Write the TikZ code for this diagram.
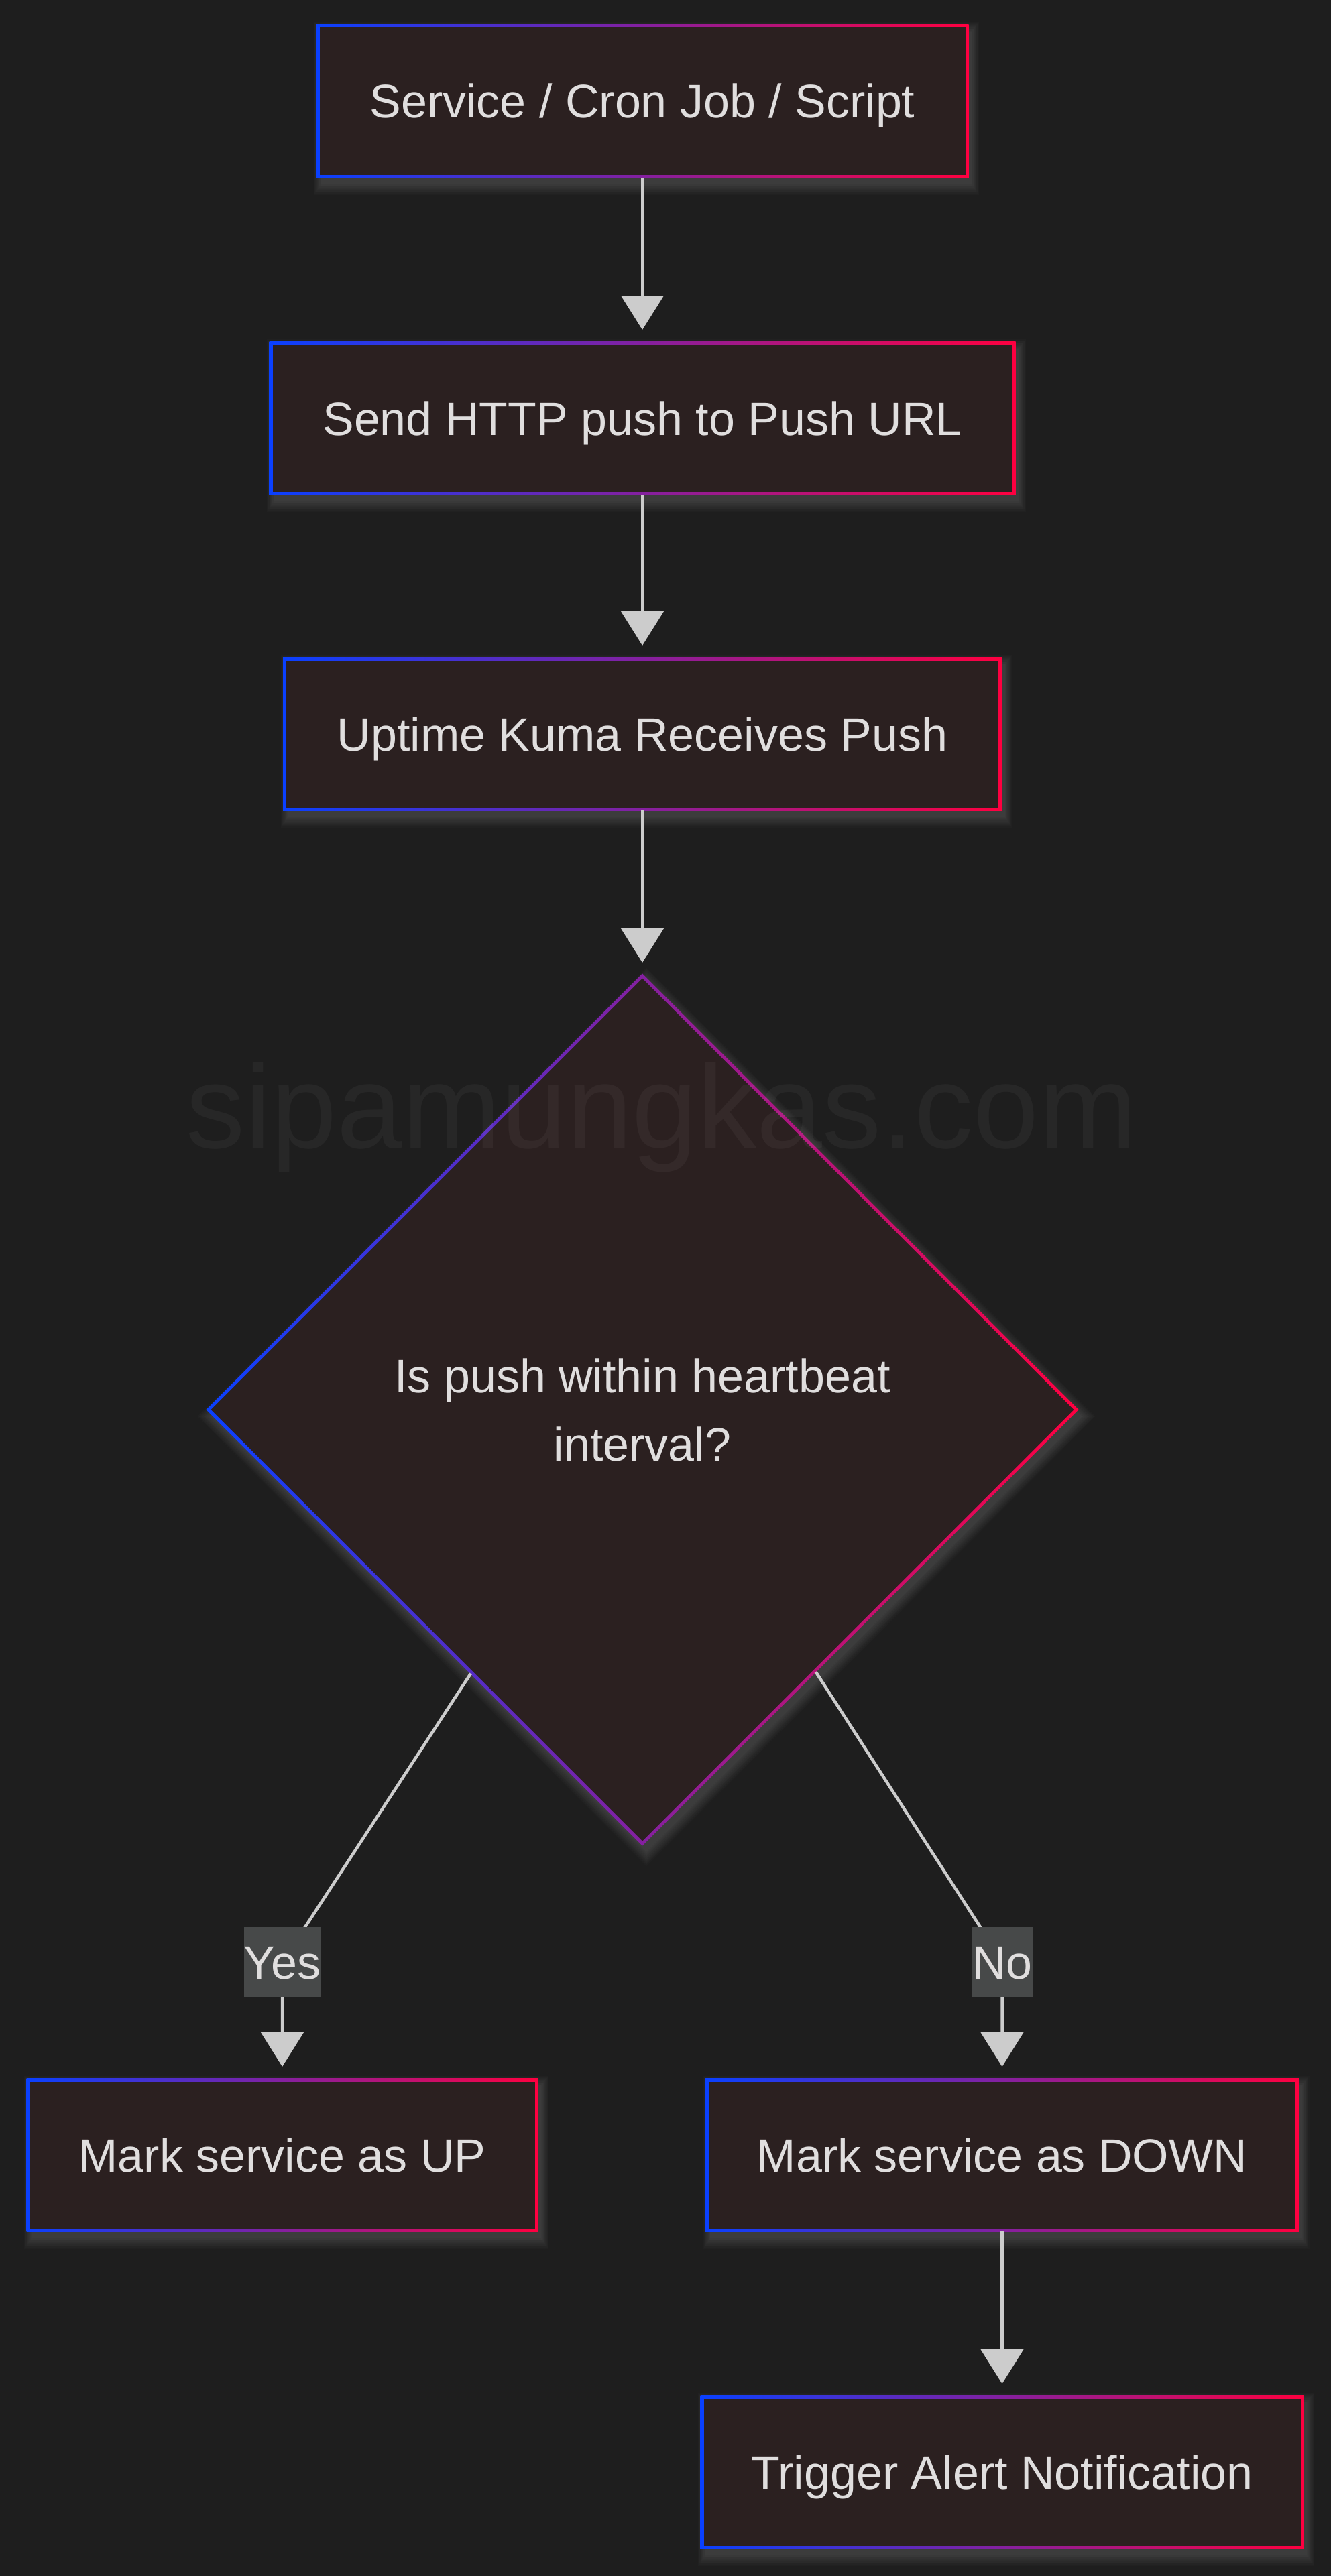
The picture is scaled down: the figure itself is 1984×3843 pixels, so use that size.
\documentclass[tikz,border=0pt]{standalone}
\usepackage{fontspec}
\setmainfont{Liberation Sans}
\usetikzlibrary{arrows.meta,shapes.geometric,calc}
\definecolor{bgc}{HTML}{1E1E1E}
\definecolor{nfill}{HTML}{2B2020}
\definecolor{kblue}{HTML}{0A40FF}
\definecolor{kred}{HTML}{FF0040}
\definecolor{txtc}{HTML}{E0DEDE}
\definecolor{edgec}{HTML}{CCCCCC}
\definecolor{lblc}{HTML}{474949}
\pgfdeclarelayer{bgzero}
\pgfdeclarelayer{bgone}
\pgfsetlayers{bgzero,bgone,main}
\tikzset{
  box/.style={rectangle, inner sep=0pt, outer sep=0pt, minimum height=224pt, text=txtc,
    font=\fontsize{70}{84}\selectfont, text height=50pt, text depth=0pt},
  dia/.style={diamond, aspect=1, inner sep=0pt, outer sep=0pt, minimum width=1294pt,
    minimum height=1294pt, text=txtc, font=\fontsize{70}{102}\selectfont, align=center},
  edge/.style={draw=edgec, line width=4.5pt, -{Triangle[width=63pt,length=51pt]},
    shorten >=20pt, shorten <=2pt},
  lbl/.style={fill=lblc, text=txtc, inner sep=0pt, minimum height=104pt,
    font=\fontsize{70}{84}\selectfont, text height=50pt, text depth=0pt},
  wm/.style={text=white, text opacity=0.045, font=\fontsize{176}{200}\selectfont, inner sep=0pt},
  glow/.style={fill=white, opacity=0.014}
}
\newcommand{\boxbg}[1]{%
  \foreach \k in {1,...,10}{%
    \fill[glow] ($(#1.north west)+(-\k*1.2+6,-\k*1.6+10)$) rectangle ($(#1.south east)+(\k*1.2+6,\k*1.8+10)$);}
  \shade[left color=kblue,right color=kred] ($(#1.north west)+(-2.5,-2.5)$) rectangle ($(#1.south east)+(2.5,2.5)$);
  \fill[nfill] ($(#1.north west)+(2.5,2.5)$) rectangle ($(#1.south east)+(-2.5,-2.5)$);
}
\begin{document}
\begin{tikzpicture}[x=1pt,y=-1pt]
\useasboundingbox (0,0) rectangle (1984,3843);
\begin{pgfonlayer}{bgzero}
  \fill[bgc] (-10,-10) rectangle (1994,3853);
\end{pgfonlayer}

\node[box, minimum width=968pt] (svc) at (958,151) {Service / Cron Job / Script};
\node[box, minimum width=1108pt] (push) at (958,624) {Send HTTP push to Push URL};
\node[box, minimum width=1067pt] (recv) at (958,1095) {Uptime Kuma Receives Push};
\node[dia] (q) at (958,2103) {Is push within heartbeat\\interval?};
\node[box, minimum width=758pt] (up) at (421,3215) {Mark service as UP};
\node[box, minimum width=880pt] (down) at (1494.5,3215) {Mark service as DOWN};
\node[box, minimum width=895pt] (alert) at (1494.5,3688) {Trigger Alert Notification};

\begin{pgfonlayer}{bgone}
  \boxbg{svc}
  \boxbg{push}
  \boxbg{recv}
  \boxbg{up}
  \boxbg{down}
  \boxbg{alert}
  \foreach \k in {1,...,10}{%
    \fill[glow] ($(q.north)+(6,10-\k*2.26)$) -- ($(q.east)+(6+\k*2.26,10)$) -- ($(q.south)+(6,10+\k*2.4)$) -- ($(q.west)+(6-\k*2.26,10)$) -- cycle;}
  \shade[left color=kblue,right color=kred] ($(q.north)+(0,-3.54)$) -- ($(q.east)+(3.54,0)$) -- ($(q.south)+(0,3.54)$) -- ($(q.west)+(-3.54,0)$) -- cycle;
  \fill[nfill] ($(q.north)+(0,3.54)$) -- ($(q.east)+(-3.54,0)$) -- ($(q.south)+(0,-3.54)$) -- ($(q.west)+(3.54,0)$) -- cycle;
\end{pgfonlayer}

\draw[edge] (svc) -- (push);
\draw[edge] (push) -- (recv);
\draw[edge] (recv) -- (q);
\coordinate (ys) at ($(q.west)!0.606!(q.south)$);
\coordinate (yb) at (455,2875);
\coordinate (yl) at (421,2979);
\draw[edge] (ys) -- (yb) .. controls (421,2925) .. (yl) -- (up);
\coordinate (ns) at ($(q.east)!0.602!(q.south)$);
\coordinate (nb) at (1462,2875);
\coordinate (nl) at (1494.5,2979);
\draw[edge] (ns) -- (nb) .. controls (1494.5,2925) .. (nl) -- (down);
\draw[edge] (down) -- (alert);

\node[lbl, minimum width=114pt] (yes) at (421,2927) {Yes};
\node[lbl, minimum width=90pt] (no) at (1495,2927) {No};

\node[wm, anchor=base] (wmk) at (987,1712) {sipamungkas.com};
\end{tikzpicture}
\end{document}
